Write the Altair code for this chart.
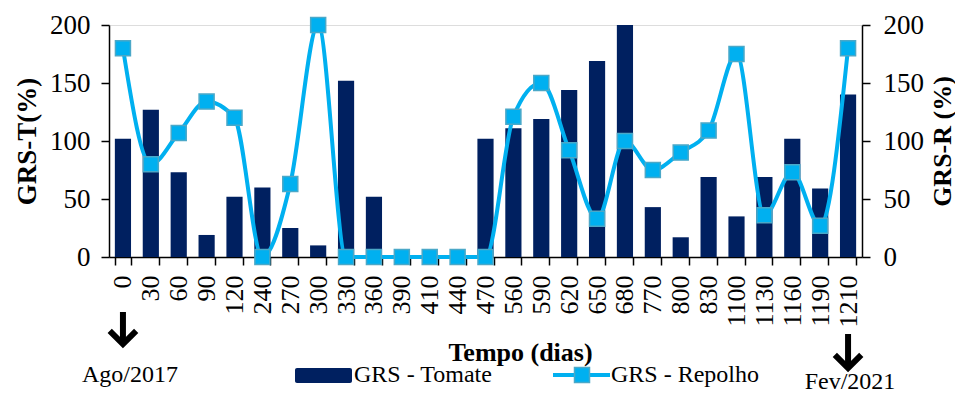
import altair as alt
import pandas as pd

dias = ["0", "30", "60", "90", "120", "240", "270", "300", "330", "360", "390", "410",
        "440", "470", "560", "590", "620", "650", "680", "770", "800", "830", "1100",
        "1130", "1160", "1190", "1210"]
tomate = [102, 127, 73, 19, 52, 60, 25, 10, 152, 52, 0, 0,
          0, 102, 111, 119, 144, 169, 200, 43, 17, 69, 35,
          69, 102, 59, 140]
repolho = [180, 80, 107, 134, 120, 0, 63, 200, 0, 0, 0, 0,
           0, 0, 121, 150, 92, 33, 100, 75, 90, 109, 175,
           36, 73, 27, 180]
y_ticks = [0, 50, 100, 150, 200]

FONT = "Liberation Serif"
NAVY = "#002060"
BLUE = "#00B0F0"

df = pd.DataFrame({"dia": dias, "tomate": tomate, "repolho": repolho})
one = pd.DataFrame({"k": [0]})

xscale = alt.Scale(domain=dias, paddingInner=0.42, paddingOuter=0.21)
xaxis = alt.Axis(labelAngle=270, labelFont=FONT, labelFontSize=26, labelColor="black",
                 labelPadding=10, tickBand="extent", tickSize=8, tickColor="black",
                 tickWidth=1.5, domainColor="black", domainWidth=1.5,
                 title="Tempo (dias)", titleFont=FONT, titleFontSize=26,
                 titleFontWeight="bold", titleColor="black",
                 titleX=411, titleY=103, titleBaseline="alphabetic", titleAlign="center")
X = alt.X("dia:N", scale=xscale, axis=xaxis)

ydom = alt.Scale(domain=[0, 200], nice=False)

left_axis = alt.Axis(values=y_ticks, orient="left", grid=False, labelFont=FONT,
                     labelFontSize=27, labelColor="black", labelPadding=11,
                     tickSize=8, tickColor="black", tickWidth=1.5,
                     domainColor="black", domainWidth=1.5,
                     title="GRS-T(%)", titleFont=FONT, titleFontSize=27,
                     titleFontWeight="bold", titleColor="black",
                     titleAngle=270, titleX=-82, titleY=116,
                     titleAlign="center", titleBaseline="middle")
right_axis = alt.Axis(values=y_ticks, orient="right", grid=False, labelFont=FONT,
                      labelFontSize=27, labelColor="black", labelPadding=13,
                      tickSize=8, tickColor="black", tickWidth=1.5,
                      domainColor="black", domainWidth=1.5,
                      title="GRS-R (%)", titleFont=FONT, titleFontSize=26,
                      titleFontWeight="bold", titleColor="black",
                      titleAngle=270, titleX=80, titleY=116,
                      titleAlign="center", titleBaseline="middle")

bars = alt.Chart(df).mark_bar(color=NAVY).encode(
    x=X, y=alt.Y("tomate:Q", scale=ydom, axis=left_axis))

line = alt.Chart(df).mark_line(interpolate="monotone", color=BLUE, strokeWidth=4).encode(
    x=X, y=alt.Y("repolho:Q", scale=ydom, axis=right_axis))

pts = alt.Chart(df).mark_point(shape="square", filled=True, size=225, fill=BLUE,
                               stroke="#4AA8C8", strokeWidth=1.5, opacity=1).encode(
    x=X, y=alt.Y("repolho:Q", scale=ydom, axis=None))

# ---- annotations (arrows, dates, legend) ----
def txt(s, x, y, align="center", size=24, baseline="middle"):
    return alt.Chart(one).mark_text(font=FONT, fontSize=size, color="black",
                                    align=align, baseline=baseline).encode(
        x=x, y=alt.value(y), text=alt.value(s))

def arrow(cat, y1, y2):
    shaft = alt.Chart(one).mark_rule(color="black", strokeWidth=6).encode(
        x=alt.datum(cat), y=alt.value(y1), y2=alt.value(y2 - 6))
    head = alt.Chart(one).mark_point(shape="M-1,-1L0,0L1,-1", filled=False,
                                     size=700, stroke="black", strokeWidth=6,
                                     opacity=1, strokeJoin="miter").encode(
        x=alt.datum(cat), y=alt.value(y2 - 4))
    return [shaft, head]

ann = []
ann += arrow("0", 287, 323)
ann += arrow("1210", 309, 347)
ann.append(txt("Ago/2017", alt.value(21), 350))
ann.append(txt("Fev/2021", alt.value(741), 364, baseline="alphabetic"))

leg_rect = alt.Chart(one).mark_rect(color=NAVY, cornerRadius=2).encode(
    x=alt.value(186), x2=alt.value(243), y=alt.value(343), y2=alt.value(358))
leg_line = alt.Chart(one).mark_rule(color=BLUE, strokeWidth=4).encode(
    x=alt.value(444), x2=alt.value(501), y=alt.value(350))
leg_pt = alt.Chart(one).mark_point(shape="square", filled=True, size=225, fill=BLUE,
                                   stroke="#4AA8C8", strokeWidth=1.5, opacity=1).encode(
    x=alt.value(473), y=alt.value(350))
ann += [leg_rect, leg_line, leg_pt,
        txt("GRS - Tomate", alt.value(245), 350, align="left"),
        txt("GRS - Repolho", alt.value(502), 350, align="left")]

chart = alt.layer(bars, line, pts, *ann).resolve_scale(y="independent").properties(
    width=753, height=232,
    autosize=alt.AutoSizeParams(type="none"),
    padding={"left": 101, "top": 17, "right": 93, "bottom": 138},
).configure_view(stroke=None).configure(background="white")

chart.save("out.html", embed_options={"renderer": "svg", "actions": False})
